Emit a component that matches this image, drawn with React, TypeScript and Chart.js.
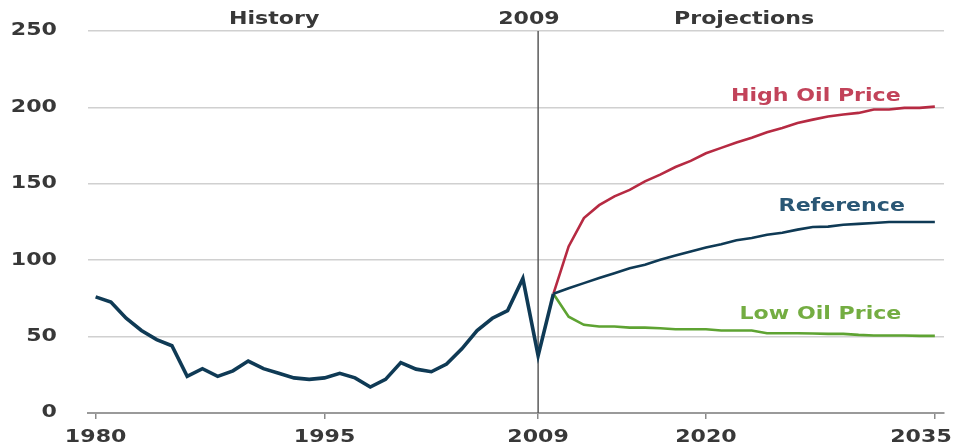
import React, { useEffect, useRef } from 'react';
import { Chart, registerables } from 'chart.js';

Chart.register(...registerables);

const historyYears = [1980, 1981, 1982, 1983, 1984, 1985, 1986, 1987, 1988, 1989, 1990, 1991, 1992, 1993, 1994, 1995, 1996, 1997, 1998, 1999, 2000, 2001, 2002, 2003, 2004, 2005, 2006, 2007, 2008, 2009, 2010];
const historyValues = [76, 72.6, 62, 54, 48, 44, 24, 29, 24, 27.6, 34, 29, 26, 23, 22, 23, 26, 23, 17, 22, 33, 28.7, 27, 32, 42, 54, 62, 67, 88, 37.5, 78];

const projectionYears = [2010, 2011, 2012, 2013, 2014, 2015, 2016, 2017, 2018, 2019, 2020, 2021, 2022, 2023, 2024, 2025, 2026, 2027, 2028, 2029, 2030, 2031, 2032, 2033, 2034, 2035];
const referenceValues = [78, 81.7, 85, 88.3, 91.5, 94.8, 97, 100.3, 103, 105.7, 108.3, 110.5, 113, 114.5, 116.6, 118, 120, 121.7, 122, 123.2, 123.8, 124.3, 125, 125, 125, 125];
const highOilValues = [78, 109, 127.6, 136, 141.8, 146, 151.6, 156, 161, 165, 170, 173.5, 177, 180.2, 183.7, 186.5, 189.8, 192, 194, 195.3, 196.4, 198.6, 198.6, 199.7, 199.7, 200.5];
const lowOilValues = [78, 63, 57.7, 56.6, 56.6, 55.9, 55.9, 55.5, 54.8, 54.8, 54.8, 54, 54, 54, 52.2, 52.2, 52.2, 52, 51.8, 51.8, 51.1, 50.7, 50.7, 50.7, 50.5, 50.5];

const xTickYears = [1980, 1995, 2009, 2020, 2035];
const yTickValues = [0, 50, 100, 150, 200, 250];
const dividerYear = 2009;

const seriesLabels = ['History', 'Reference', 'High Oil Price', 'Low Oil Price'];
const sectionLabels = ['History', '2009', 'Projections'];

const FONT_FAMILY = '"DejaVu Sans", "Liberation Sans", Arial, sans-serif';
const NAVY = '#0f3a55';
const RED = '#b62a42';
const GREEN = '#5ea332';
const TEXT = '#383838';
const TEXT_STRETCH = 1.3;

export default function App() {
  const ref = useRef<HTMLCanvasElement>(null);

  useEffect(() => {
    document.body.style.margin = '0';
    const canvas = ref.current;
    if (!canvas) return;

    // Horizontally widen every glyph run, anchored at its own alignment point.
    const stretchPlugin = {
      id: 'stretch',
      beforeInit(chart: any) {
        const ctx = chart.ctx as any;
        if (ctx.__stretched) return;
        const orig = ctx.fillText.bind(ctx);
        ctx.fillText = (text: string, x: number, y: number, maxWidth?: number) => {
          ctx.save();
          ctx.translate(x, y);
          ctx.scale(TEXT_STRETCH, 1);
          if (maxWidth !== undefined) orig(text, 0, 0, maxWidth / TEXT_STRETCH);
          else orig(text, 0, 0);
          ctx.restore();
        };
        ctx.__stretched = true;
      },
      beforeDraw(chart: any) {
        const items = chart.scales.x.getLabelItems();
        const last = items[items.length - 1];
        if (last && last.options && last.options.translation) {
          const t = last.options.translation;
          last.options.translation = [Math.min(t[0], chart.width - 33), t[1]];
        }
      },
    };

    const overlayPlugin = {
      id: 'overlay',
      beforeDatasetsDraw(chart: any) {
        const { ctx, chartArea, scales } = chart;
        const x = scales.x.getPixelForValue(dividerYear);
        ctx.save();
        ctx.strokeStyle = '#5a5a5a';
        ctx.lineWidth = 1.5;
        ctx.beginPath();
        ctx.moveTo(x, chartArea.top);
        ctx.lineTo(x, chartArea.bottom);
        ctx.stroke();
        ctx.restore();
      },
      afterDraw(chart: any) {
        const { ctx, chartArea, scales } = chart;
        const xs = scales.x;
        const ys = scales.y;
        ctx.save();
        ctx.font = `bold 17px ${FONT_FAMILY}`;
        ctx.textAlign = 'center';
        ctx.textBaseline = 'middle';
        const topY = chartArea.top - 11;
        const tops: [string, number][] = [
          [sectionLabels[0], 1991.7],
          [sectionLabels[1], 2008.4],
          [sectionLabels[2], 2022.5],
        ];
        ctx.fillStyle = TEXT;
        tops.forEach(([t, yr]) => {
          ctx.fillText(t, xs.getPixelForValue(yr), topY);
        });
        const inline: [string, number, number, string][] = [
          [seriesLabels[2], 2027.2, 207.3, '#c2435a'],
          [seriesLabels[1], 2028.9, 135.2, '#2a5775'],
          [seriesLabels[3], 2027.5, 64.3, '#74ad42'],
        ];
        inline.forEach(([t, yr, v, c]) => {
          ctx.fillStyle = c;
          ctx.fillText(t, xs.getPixelForValue(yr), ys.getPixelForValue(v));
        });
        ctx.restore();
      },
    };

    const tickFont = { family: FONT_FAMILY, size: 17, weight: 'bold' as const };

    const chart = new Chart(canvas, {
      type: 'line',
      data: {
        datasets: [
          {
            label: seriesLabels[0],
            data: historyYears.map((y, i) => ({ x: y, y: historyValues[i] })),
            borderColor: NAVY,
            borderWidth: 3.6,
            pointRadius: 0,
            tension: 0,
            order: 1,
          },
          {
            label: seriesLabels[1],
            data: projectionYears.map((y, i) => ({ x: y, y: referenceValues[i] })),
            borderColor: NAVY,
            borderWidth: 2.6,
            pointRadius: 0,
            tension: 0,
            order: 2,
          },
          {
            label: seriesLabels[2],
            data: projectionYears.map((y, i) => ({ x: y, y: highOilValues[i] })),
            borderColor: RED,
            borderWidth: 2.6,
            pointRadius: 0,
            tension: 0,
            order: 3,
          },
          {
            label: seriesLabels[3],
            data: projectionYears.map((y, i) => ({ x: y, y: lowOilValues[i] })),
            borderColor: GREEN,
            borderWidth: 2.6,
            pointRadius: 0,
            tension: 0,
            order: 4,
          },
        ],
      },
      options: {
        animation: false,
        responsive: true,
        maintainAspectRatio: false,
        layout: { padding: { top: 31, right: 10, bottom: 0, left: 0 } },
        plugins: {
          legend: { display: false },
          tooltip: { enabled: false },
        },
        scales: {
          x: {
            type: 'linear',
            min: 1979.5,
            max: 2035.6,
            afterBuildTicks: (scale: any) => {
              scale.ticks = xTickYears.map((v) => ({ value: v }));
            },
            afterFit: (scale: any) => {
              scale.height = 32;
              scale.paddingLeft = 0;
              scale.paddingRight = 0;
            },
            ticks: {
              autoSkip: false,
              maxRotation: 0,
              minRotation: 0,
              padding: 8,
              color: TEXT,
              font: tickFont,
              callback: (v: any) => String(v),
            },
            grid: {
              drawOnChartArea: false,
              drawTicks: true,
              tickLength: 6,
              color: '#8a8a8a',
              lineWidth: 1.5,
            },
            border: { display: true, color: '#9a9a9a', width: 2 },
          },
          y: {
            type: 'linear',
            min: 0,
            max: 250,
            afterBuildTicks: (scale: any) => {
              scale.ticks = yTickValues.map((v) => ({ value: v }));
            },
            afterFit: (scale: any) => {
              scale.width = 88;
              scale.paddingTop = 0;
              scale.paddingBottom = 0;
            },
            ticks: {
              padding: 31,
              color: TEXT,
              font: tickFont,
              callback: (v: any) => String(v),
            },
            grid: {
              drawTicks: false,
              color: '#d0d0d0',
              lineWidth: 1.5,
            },
            border: { display: false },
          },
        },
      },
      plugins: [stretchPlugin, overlayPlugin],
    });

    return () => {
      chart.destroy();
    };
  }, []);

  return (
    <div style={{ position: 'relative', width: 954, height: 445 }}>
      <canvas ref={ref} />
    </div>
  );
}
